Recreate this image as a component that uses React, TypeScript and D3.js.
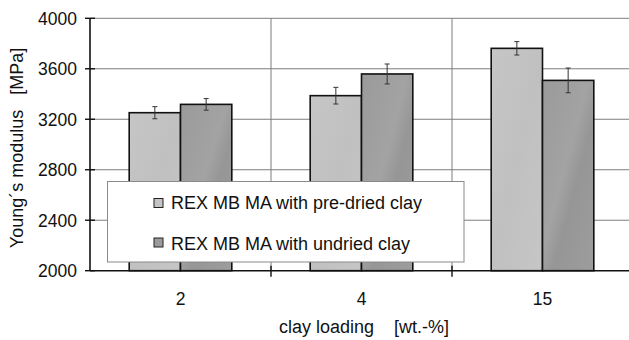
import React from 'react';
import * as d3 from 'd3';

const categories = ['2', '4', '15'];
const seriesNames = ['REX MB MA with pre-dried clay', 'REX MB MA with undried clay'];
const preDried = [3252, 3387, 3762];
const preDriedErr = [48, 66, 53];
const undried = [3318, 3559, 3508];
const undriedErr = [46, 79, 98];
const yTicks = [2000, 2400, 2800, 3200, 3600, 4000];

const W = 629;
const H = 340;
const margin = { left: 90, top: 18.3, right: -4, bottom: 69.3 };
const fills = ['#c4c4c4', '#9b9b9b'];
const font = '"Liberation Sans", Arial, sans-serif';

export default function App() {
  const x = d3.scaleBand<string>()
    .domain(categories)
    .range([margin.left, W - margin.right])
    .padding(0);
  const inner = d3.scaleBand<number>()
    .domain([0, 1])
    .range([0, x.bandwidth()])
    .paddingInner(0)
    .paddingOuter(0.764);
  const y = d3.scaleLinear()
    .domain([2000, 4000])
    .range([H - margin.bottom, margin.top]);

  const series = [
    { values: preDried, errs: preDriedErr },
    { values: undried, errs: undriedErr },
  ];
  const x0 = margin.left;
  const y0 = y(2000);

  return (
    <svg width={W} height={H} style={{ position: 'absolute', left: 0, top: 0, background: '#fff' }}
      fontFamily={font}>
      <defs>
        <linearGradient id="g1" x1="0" y1="0" x2="1" y2="1">
          <stop offset="0" stopColor="#c6c6c6" />
          <stop offset="0.5" stopColor="#c0c0c0" />
          <stop offset="1" stopColor="#c6c6c6" />
        </linearGradient>
        <linearGradient id="g2" x1="0" y1="0" x2="1" y2="1">
          <stop offset="0" stopColor="#9a9a9a" />
          <stop offset="0.45" stopColor="#a3a3a3" />
          <stop offset="0.6" stopColor="#969696" />
          <stop offset="1" stopColor="#9d9d9d" />
        </linearGradient>
      </defs>

      {/* grid */}
      {yTicks.slice(1).map(t => (
        <line key={'gy' + t} x1={x0} x2={W} y1={y(t)} y2={y(t)} stroke="#7d7d7d" strokeWidth={1} />
      ))}
      {categories.slice(1).map(c => (
        <line key={'gx' + c} x1={x(c)} x2={x(c)} y1={margin.top} y2={y0} stroke="#7d7d7d" strokeWidth={1} />
      ))}

      {/* bars */}
      {series.map((s, si) => categories.map((c, ci) => (
        <rect key={'b' + si + c}
          x={(x(c) as number) + (inner(si) as number)}
          y={y(s.values[ci])}
          width={inner.bandwidth()}
          height={y0 - y(s.values[ci])}
          fill={si === 0 ? 'url(#g1)' : 'url(#g2)'}
          stroke="#111" strokeWidth={1.6} />
      )))}

      {/* error bars */}
      {series.map((s, si) => categories.map((c, ci) => {
        const cx = (x(c) as number) + (inner(si) as number) + inner.bandwidth() / 2;
        const hi = y(s.values[ci] + s.errs[ci]);
        const lo = y(s.values[ci] - s.errs[ci]);
        return (
          <g key={'e' + si + c} stroke="#333" strokeWidth={1}>
            <line x1={cx} x2={cx} y1={hi} y2={lo} />
            <line x1={cx - 2.5} x2={cx + 2.5} y1={hi} y2={hi} />
            <line x1={cx - 2.5} x2={cx + 2.5} y1={lo} y2={lo} />
          </g>
        );
      }))}

      {/* axes */}
      <line x1={x0} x2={x0} y1={margin.top} y2={y0} stroke="#111" strokeWidth={1.6} />
      <line x1={x0} x2={W} y1={y0} y2={y0} stroke="#111" strokeWidth={1.6} />
      {yTicks.map(t => (
        <g key={'yt' + t}>
          <line x1={x0 - 5} x2={x0 + 5} y1={y(t)} y2={y(t)} stroke="#111" strokeWidth={1.4} />
          <text x={x0 - 13} y={y(t)} dy="0.36em" textAnchor="end" fontSize={17.5} fill="#111">{t}</text>
        </g>
      ))}
      {categories.slice(1).map(c => (
        <line key={'xt' + c} x1={x(c)} x2={x(c)} y1={y0 - 5} y2={y0 + 6} stroke="#111" strokeWidth={1.4} />
      ))}
      {categories.map(c => (
        <text key={'xl' + c} x={(x(c) as number) + x.bandwidth() / 2} y={305} textAnchor="middle"
          fontSize={17.5} fill="#111">{c}</text>
      ))}

      {/* legend */}
      <rect x={107.5} y={181.5} width={356.5} height={80.5} fill="#fff" stroke="#8a8a8a" strokeWidth={1} />
      {seriesNames.map((n, i) => (
        <g key={'lg' + i}>
          <rect x={154} y={i === 0 ? 198.5 : 238} width={9} height={9}
            fill={fills[i]} stroke="#222" strokeWidth={1} />
          <text x={171} y={i === 0 ? 209.3 : 249.5} fontSize={18} fill="#111">{n}</text>
        </g>
      ))}

      {/* titles */}
      <text x={364} y={333} textAnchor="middle" fontSize={18} fill="#111"
        style={{ whiteSpace: 'pre' }}>{'clay loading    [wt.-%]'}</text>
      <text transform="translate(23,148) rotate(-90)" textAnchor="middle" fontSize={18} fill="#111"
        style={{ whiteSpace: 'pre' }}>{'Young´s modulus   [MPa]'}</text>
    </svg>
  );
}
